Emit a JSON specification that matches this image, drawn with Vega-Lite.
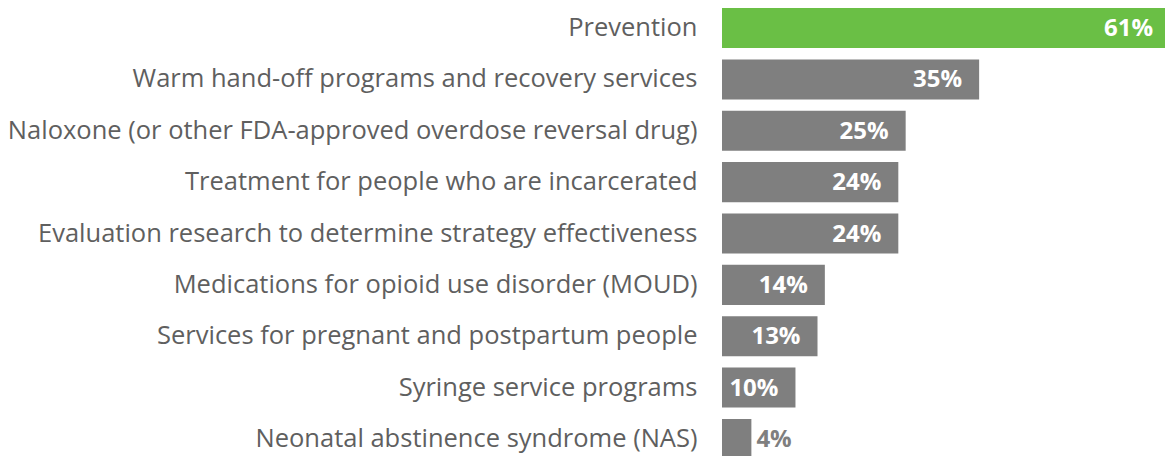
{
  "$schema": "https://vega.github.io/schema/vega-lite/v6.json",
  "autosize": "none",
  "width": 443,
  "height": 454,
  "padding": {"left": 722, "top": 2, "right": 0, "bottom": 0},
  "background": "white",
  "config": {"view": {"stroke": null}, "font": "Open Sans"},
  "data": {"values": [
    {"order": 1, "category": "Prevention", "value": 61, "label": "61%", "highlight": "yes"},
    {"order": 2, "category": "Warm hand-off programs and recovery services", "value": 35, "label": "35%", "highlight": "no"},
    {"order": 3, "category": "Naloxone (or other FDA-approved overdose reversal drug)", "value": 25, "label": "25%", "highlight": "no"},
    {"order": 4, "category": "Treatment for people who are incarcerated", "value": 24, "label": "24%", "highlight": "no"},
    {"order": 5, "category": "Evaluation research to determine strategy effectiveness", "value": 24, "label": "24%", "highlight": "no"},
    {"order": 6, "category": "Medications for opioid use disorder (MOUD)", "value": 14, "label": "14%", "highlight": "no"},
    {"order": 7, "category": "Services for pregnant and postpartum people", "value": 13, "label": "13%", "highlight": "no"},
    {"order": 8, "category": "Syringe service programs", "value": 10, "label": "10%", "highlight": "no"},
    {"order": 9, "category": "Neonatal abstinence syndrome (NAS)", "value": 4, "label": "4%", "highlight": "no"}
  ]},
  "encoding": {
    "y": {
      "field": "category", "type": "nominal",
      "sort": {"field": "order", "op": "min", "order": "ascending"},
      "scale": {"range": [0, 463], "paddingInner": 0.221, "paddingOuter": 0.117},
      "axis": {"title": null, "domain": false, "ticks": false, "labelPadding": 25, "labelLimit": 0,
               "labelFontSize": 25.5, "labelColor": "#5f5f5f", "labelFont": "Open Sans"}
    },
    "x": {
      "field": "value", "type": "quantitative",
      "scale": {"domain": [0, 60.3], "nice": false, "zero": true},
      "axis": null
    }
  },
  "layer": [
    {
      "mark": {"type": "bar", "clip": true},
      "encoding": {
        "color": {"field": "highlight", "type": "nominal",
                  "scale": {"domain": ["yes", "no"], "range": ["#6abf45", "#7f7f7f"]}, "legend": null}
      }
    },
    {
      "transform": [{"filter": "datum.value >= 5"}],
      "mark": {"type": "text", "align": "right", "baseline": "middle", "dx": -17, "dy": 1,
               "fontSize": 24, "fontWeight": "bold", "color": "white", "font": "Open Sans"},
      "encoding": {"text": {"field": "label", "type": "nominal"}}
    },
    {
      "transform": [{"filter": "datum.value < 5"}],
      "mark": {"type": "text", "align": "left", "baseline": "middle", "dx": 5, "dy": 1,
               "fontSize": 24, "fontWeight": "bold", "color": "#7f7f7f", "font": "Open Sans"},
      "encoding": {"text": {"field": "label", "type": "nominal"}}
    }
  ]
}
